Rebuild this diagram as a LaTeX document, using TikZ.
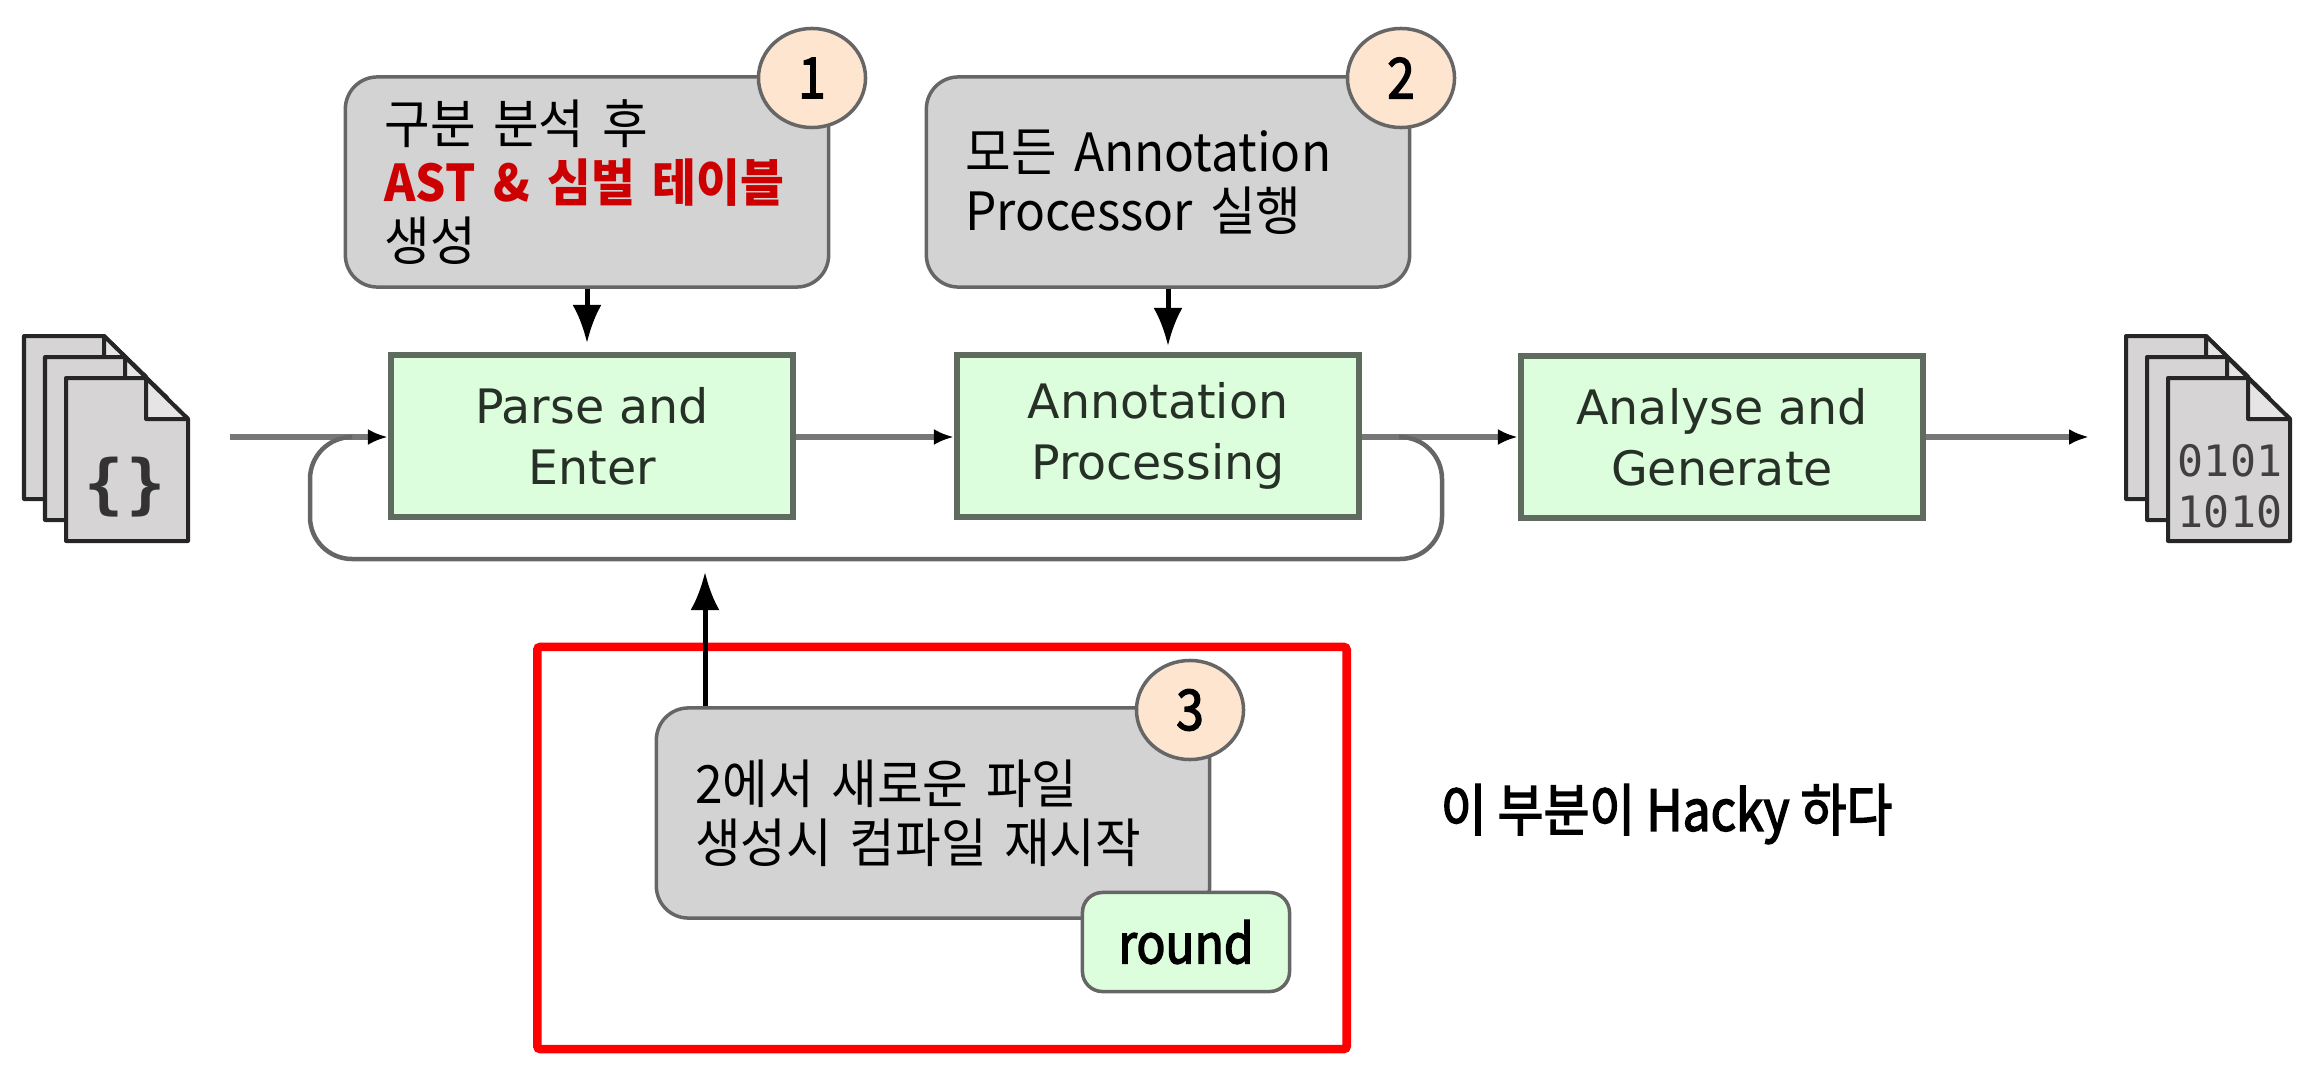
\documentclass[tikz,border=0pt]{standalone}
\usepackage{fontspec}
\setmainfont[FakeStretch=0.94]{Noto Sans CJK KR}
\newfontfamily\medfont[FakeBold=2.5,FakeStretch=0.88]{Noto Sans CJK KR}
\newfontfamily\stagefont{DejaVu Sans}
\newfontfamily\codefont{DejaVu Sans Mono}
\usetikzlibrary{arrows.meta,shapes.geometric}
\definecolor{notegray}{HTML}{D3D3D3}
\definecolor{stagegreen}{HTML}{DDFEDD}
\definecolor{stageedge}{HTML}{5F6B5F}
\definecolor{stagetext}{HTML}{263026}
\definecolor{badgeorange}{HTML}{FDE5CF}
\definecolor{edgegray}{HTML}{666666}
\definecolor{flowgray}{HTML}{777777}
\definecolor{pagegray}{HTML}{D6D4D4}
\definecolor{foldgray}{HTML}{E6E4E4}
\definecolor{notered}{HTML}{CC0000}
\tikzset{
  stage/.style={draw=stageedge, line width=0.06cm, fill=stagegreen, minimum width=4.02cm,
    minimum height=1.62cm, inner sep=0pt, align=center, text=stagetext,
    font=\stagefont\fontsize{13.5}{17.4}\selectfont},
  note/.style={draw=edgegray, line width=0.035cm, fill=notegray, rounded corners=0.32cm, inner xsep=0.39cm,
    inner ysep=0pt, text width=#1, align=left, font=\fontsize{15}{16.7}\selectfont},
  badge/.style={ellipse, draw=edgegray, line width=0.035cm, fill=badgeorange, minimum width=1.07cm,
    minimum height=0.99cm, inner sep=0pt, font=\medfont\fontsize{16}{16}\selectfont},
  pointer/.style={-{Latex[length=0.38cm,width=0.29cm]}, line width=0.05cm, black},
  flow/.style={-{Latex[length=0.2cm,width=0.16cm,black]}, line width=0.06cm, flowgray},
  docpage/.style={draw=black!85, line width=0.04cm, line join=round}
}
\begin{document}
\begin{tikzpicture}[x=0.01cm, y=-0.01cm]
  \useasboundingbox (0,0) rectangle (2324,1070);

  % source and class files
  \foreach \off in {0,2102} {
    \foreach \d in {0,21,42} {
      \draw[docpage, fill=pagegray] (24+\off+\d,336+\d) -- ++(80,0) -- ++(42,41) -- ++(0,122)
        -- ++(-122,0) -- cycle;
      \draw[docpage, fill=foldgray] (104+\off+\d,336+\d) -- ++(42,41) -- ++(-42,0) -- cycle;
    }
  }
  \node (src) [text=black!80, font=\codefont\bfseries\fontsize{18.5}{18}\selectfont] at (125,487) {\{\hspace{1pt}\}};
  \node (bin) [align=center, text=black!75, font=\codefont\fontsize{12.3}{14.4}\selectfont]
    at (2230,486) {0101\\1010};

  % stages
  \node[stage] (pe) at (592,436) {Parse and\\Enter};
  \node[stage] (ap) at (1158,436) {Annotation\\Processing};
  \node[stage] (ag) at (1722,437) {Analyse and\\Generate};

  \coordinate (in) at (230,437);
  \coordinate (out) at (2089,437);
  \coordinate (loopa) at (1399,437);
  \coordinate (loopb) at (350,437);
  \draw[flow] (in) -- (in -| pe.west);
  \draw[flow] (pe.east |- in) -- (in -| ap.west);
  \draw[flow] (ap.east |- in) -- (in -| ag.west);
  \draw[flow] (ag.east |- in) -- (out);
  \draw[line width=0.045cm, edgegray, rounded corners=0.42cm] (loopa) -- (1442,437) -- (1442,559)
    -- (310,559) -- (310,437) -- (loopb);

  % the part that is marked
  \node (hacky) [draw=red, line width=0.085cm, rounded corners=0.03cm, minimum width=8.09cm,
    minimum height=4.02cm] at (942,848) {};
  \coordinate (up) at (705,572);

  % notes
  \node[note=4.05cm, minimum height=2.1cm] (note1) at (587,182)
    {구분 분석 후\\\textcolor{notered}{\bfseries\fontsize{14.4}{16.7}\selectfont AST \& 심벌 테이블}\\생성};
  \node[note=4.05cm, minimum height=2.1cm] (note2) at (1168,182) {모든 Annotation\\Processor 실행};
  \node[note=4.75cm, minimum height=2.1cm] (note3) at (933,813) {2에서 새로운 파일\\생성시 컴파일 재시작};

  \draw[pointer, shorten >=0.09cm] (note1.south) -- (note1.south |- pe.north);
  \draw[pointer, shorten >=0.06cm] (note2.south) -- (note2.south |- ap.north);
  \draw[pointer] (up |- note3.north) -- (up);

  \foreach \n/\x/\y in {1/812/78, 2/1401/78, 3/1190/710} {
    \node[badge] (badge\n) at (\x,\y) {\n};
  }

  \node (rnd) [draw=edgegray, line width=0.035cm, fill=stagegreen, rounded corners=0.2cm,
    minimum width=2.07cm, minimum height=0.99cm, font=\medfont\fontsize{15.5}{16}\selectfont]
    at (1186,942) {round};
  \node (remark) [anchor=west, inner sep=0pt, font=\medfont\fontsize{16.1}{16}\selectfont]
    at (1440,814) {이 부분이 Hacky 하다};
\end{tikzpicture}
\end{document}
